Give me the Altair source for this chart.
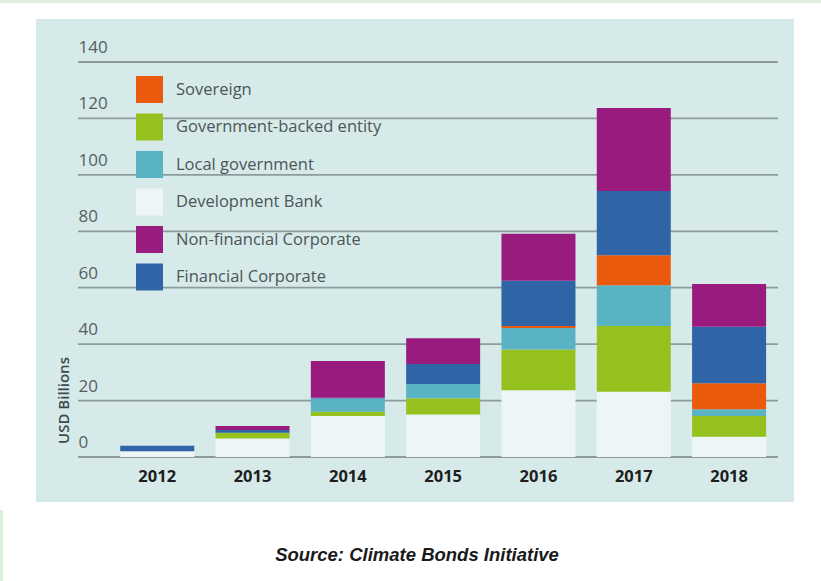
import altair as alt
import pandas as pd

years = ["2012", "2013", "2014", "2015", "2016", "2017", "2018"]
legend_order = ["Sovereign", "Government-backed entity", "Local government",
                "Development Bank", "Non-financial Corporate", "Financial Corporate"]
colors = ["#ea5a0c", "#95c11f", "#5ab3c3", "#edf5f6", "#9a1b7e", "#2f64a6"]
# stacking order from the bottom
stack_order = ["Development Bank", "Government-backed entity", "Local government",
               "Sovereign", "Financial Corporate", "Non-financial Corporate"]

development_bank = [2.0, 6.6, 14.5, 15.1, 23.7, 23.1, 7.2]
government_backed = [0.0, 2.0, 1.5, 5.7, 14.4, 23.3, 7.3]
local_government = [0.0, 0.0, 4.7, 5.1, 7.6, 14.5, 2.4]
sovereign = [0.0, 0.0, 0.0, 0.0, 0.7, 10.6, 9.2]
financial_corporate = [2.0, 1.0, 0.3, 7.1, 16.1, 22.8, 20.1]
non_financial_corporate = [0.0, 1.4, 13.0, 9.1, 16.6, 29.4, 15.1]

y_ticks = [0, 20, 40, 60, 80, 100, 120, 140]
source_text = "Source: Climate Bonds Initiative"

series = {
    "Development Bank": development_bank,
    "Government-backed entity": government_backed,
    "Local government": local_government,
    "Sovereign": sovereign,
    "Financial Corporate": financial_corporate,
    "Non-financial Corporate": non_financial_corporate,
}
rows = []
for name, vals in series.items():
    for yr, v in zip(years, vals):
        rows.append({"year": yr, "type": name, "value": v,
                     "ord": stack_order.index(name)})
df = pd.DataFrame(rows)
grid_df = pd.DataFrame({"tick": y_ticks})
one = pd.DataFrame({"t": [source_text]})

yscale = alt.Scale(domain=[0, 140], nice=False)
yaxis = alt.Axis(values=y_ticks, title="USD Billions", domain=False, ticks=False,
                 labelAlign="left", labelPadding=0, labelOffset=-14.5,
                 labelFont="Open Sans", labelFontSize=17, labelColor="#56605f",
                 labelBaseline="middle", grid=False, zindex=1,
                 titleFont="Open Sans", titleFontSize=15, titleFontWeight=600,
                 titleColor="#3f4a4a", titleX=-14.5, titleY=338,
                 titleAngle=-90, titleAlign="center", titleBaseline="middle")

panel = alt.Chart(one).mark_rect(color="#d6eaea").encode(
    x=alt.value(-42), x2=alt.value(716), y=alt.value(-43), y2=alt.value(440)
)
top_strip = alt.Chart(one).mark_rect(color="#ddf0dd").encode(
    x=alt.value(-78), x2=alt.value(743), y=alt.value(-62), y2=alt.value(-59)
)
left_strip = alt.Chart(one).mark_rect(color="#ddf0dd").encode(
    x=alt.value(-78), x2=alt.value(-75), y=alt.value(448), y2=alt.value(519)
)

grid = alt.Chart(grid_df).mark_rule(color="#8d9b9b", strokeWidth=1.8).encode(
    y=alt.Y("tick:Q", scale=yscale, axis=yaxis),
    x=alt.value(0), x2=alt.value(700),
)

bars = alt.Chart(df).mark_bar(stroke=None).encode(
    x=alt.X("year:N", sort=years,
            scale=alt.Scale(paddingInner=0.2235, paddingOuter=0.284, align=0.78),
            axis=alt.Axis(title=None, labelAngle=0, domain=False, ticks=False,
                          labelFont="Open Sans", labelFontWeight="bold",
                          labelFontSize=16.5, labelColor="#1e1e1e", labelPadding=11,
                          grid=False, zindex=1)),
    y=alt.Y("value:Q", stack="zero", scale=yscale, axis=yaxis),
    color=alt.Color("type:N",
                    scale=alt.Scale(domain=legend_order, range=colors),
                    legend=alt.Legend(title=None, orient="none", legendX=58, legendY=14,
                                      symbolType="square", symbolSize=729,
                                      symbolStrokeWidth=0, symbolOpacity=1,
                                      rowPadding=10.5, labelFont="Open Sans",
                                      labelFontSize=16.5, labelColor="#4b5656",
                                      labelOffset=13, labelLimit=400, padding=0,
                                      zindex=1)),
    order=alt.Order("ord:Q", sort="ascending"),
)

source = alt.Chart(one).mark_text(
    font="Liberation Sans", fontSize=18.5, fontWeight="bold", fontStyle="italic",
    color="#1a1a1a", align="center", baseline="middle"
).encode(x=alt.value(339), y=alt.value(493), text="t:N")

chart = alt.layer(top_strip, left_strip, panel, grid, bars, source).properties(
    width=700, height=395,
    autosize=alt.AutoSizeParams(type="none"),
    padding={"left": 78, "top": 62, "right": 43, "bottom": 124},
    background="white",
).configure_view(stroke=None)

chart.save("out.html", embed_options={"renderer": "svg", "actions": False})
